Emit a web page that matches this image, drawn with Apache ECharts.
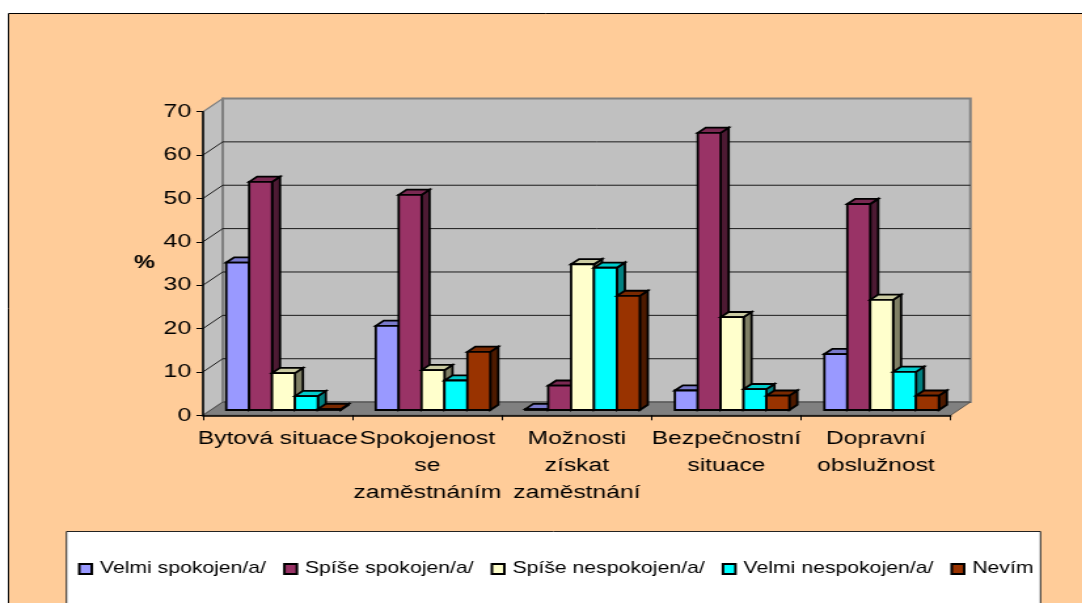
<!DOCTYPE html>
<html>
<head>
<meta charset="utf-8">
<style>
html,body{margin:0;padding:0;background:#fff;overflow:hidden;width:1082px;height:603px}
#c{width:826px;height:603px;transform:scaleX(1.31);transform-origin:0 0}
</style>
<script src="https://cdn.jsdelivr.net/npm/echarts@6/dist/echarts.min.js"></script>
</head>
<body>
<div id="c"></div>
<script>
const categories = ["Bytová situace", "Spokojenost\nse\nzaměstnáním", "Možnosti\nzískat\nzaměstnání", "Bezpečnostní\nsituace", "Dopravní\nobslužnost"];
const velmiSpokojen = [34.0, 19.4, 0.2, 4.5, 12.9];
const spiseSpokojen = [52.6, 49.6, 5.6, 63.9, 47.5];
const spiseNespokojen = [8.5, 9.2, 33.6, 21.4, 25.4];
const velmiNespokojen = [3.2, 6.8, 32.8, 4.8, 8.8];
const nevim = [0.2, 13.4, 26.3, 3.3, 3.3];
const yTicks = [10, 20, 30, 40, 50, 60];
const seriesNames = ["Velmi spokojen/a/", "Spíše spokojen/a/", "Spíše nespokojen/a/", "Velmi nespokojen/a/", "Nevím"];
const seriesValues = [velmiSpokojen, spiseSpokojen, spiseNespokojen, velmiNespokojen, nevim];
const seriesColors = ["#9999FF", "#993366", "#FFFFCC", "#00FFFF", "#993300"];

const S = 1.31;               // horizontal stretch of the whole picture
const px = v => v / S;
const wallDx = px(19.7), wallDy = 13.2;
const barDx = px(8), barDy = 5.2;
const barW = px(22.9), barShift = px(5.7), baseLift = 5.3;

function shade(hex, f) {
  const n = parseInt(hex.slice(1), 16);
  const c = s => Math.round(((n >> s) & 255) * f);
  return `rgb(${c(16)},${c(8)},${c(0)})`;
}
const poly = (points, fill, stroke, lw) => ({
  type: 'polygon', shape: { points },
  style: { fill, stroke: stroke || 'none', lineWidth: lw || 0 }
});

function renderWalls(params, api) {
  const g = params.coordSys;
  const x0 = g.x, x1 = g.x + g.width, yT = g.y, yB = g.y + g.height;
  return { type: 'group', children: [
    poly([[x0, yT], [x0 + wallDx, yT - wallDy], [x0 + wallDx, yB - wallDy], [x0, yB]], '#C0C0C0', '#808080', 1.2),
    poly([[x0 + wallDx, yT - wallDy], [x1 + wallDx, yT - wallDy], [x1 + wallDx, yB - wallDy], [x0 + wallDx, yB - wallDy]], '#C0C0C0', '#808080', 2),
    poly([[x0, yB], [x0 + wallDx, yB - wallDy], [x1 + wallDx, yB - wallDy], [x1, yB]], '#808080', '#404040', 0.8)
  ] };
}
function renderGrid(params, api) {
  const g = params.coordSys;
  const y = api.coord([0, api.value(1)])[1];
  const x0 = g.x, x1 = g.x + g.width;
  return { type: 'polyline',
    shape: { points: [[x0, y], [x0 + wallDx, y - wallDy], [x1 + wallDx, y - wallDy]] },
    style: { fill: 'none', stroke: '#1a1a1a', lineWidth: 1 } };
}
function makeBarRenderer(i) {
  return function (params, api) {
    const base = api.coord([api.value(0), 0]);
    const top = api.coord([api.value(0), api.value(1)]);
    const left = base[0] + barShift + (i - 2.5) * barW;
    const right = left + barW;
    const yB = base[1] - baseLift, yT = top[1] - baseLift;
    const col = seriesColors[i], k = '#000', lw = 1.8;
    return { type: 'group', children: [
      poly([[right, yT], [right + barDx, yT - barDy], [right + barDx, yB - barDy], [right, yB]], shade(col, 0.5), k, lw),
      poly([[left, yT], [left + barDx, yT - barDy], [right + barDx, yT - barDy], [right, yT]], shade(col, 0.8), k, lw),
      poly([[left, yT], [right, yT], [right, yB], [left, yB]], col, k, lw)
    ] };
  };
}

const barSeries = seriesNames.map((name, i) => ({
  name, type: 'custom', z: 2, clip: false,
  coordinateSystem: 'cartesian2d',
  encode: { x: 0, y: 1 },
  itemStyle: { color: seriesColors[i], borderColor: '#000', borderWidth: 1.5 },
  renderItem: makeBarRenderer(i),
  data: seriesValues[i].map((v, c) => [c, v])
}));

const font = 'Liberation Sans';
const chart = echarts.init(document.getElementById('c'), null, { renderer: 'canvas' });
chart.setOption({
  animation: false,
  textStyle: { fontFamily: font, color: '#000' },
  graphic: { elements: [
    { type: 'rect', z: -10, shape: { x: px(8.5), y: 13.5, width: 900, height: 700 },
      style: { fill: '#FFCC99', stroke: '#000', lineWidth: 1 } },
    { type: 'rect', z: -9, shape: { x: px(66.5), y: 531.5, width: px(974), height: 200 },
      style: { fill: '#fff', stroke: '#222', lineWidth: 1 } }
  ] },
  grid: { left: px(203), width: px(747.7), top: 111.7, height: 303.6, containLabel: false },
  xAxis: {
    type: 'category', data: categories, z: 3,
    axisLine: { lineStyle: { color: '#000', width: 1.5 } },
    axisTick: { show: true, alignWithLabel: false, length: 5, lineStyle: { color: '#000', width: 1 } },
    axisLabel: { interval: 0, fontSize: 18.8, lineHeight: 27, margin: 10, color: '#000', fontFamily: font },
    splitLine: { show: false }
  },
  yAxis: {
    type: 'value', min: 0, max: 70, interval: 10, z: 3,
    name: '%', nameLocation: 'middle', nameRotate: 0, nameGap: 36.6, nameMoveOverlap: false,
    nameTextStyle: { fontSize: 18, fontWeight: 'bold', color: '#000', fontFamily: font },
    axisLine: { show: true, lineStyle: { color: '#000', width: 1.5 } },
    axisTick: { show: true, length: 5, lineStyle: { color: '#000', width: 1 } },
    axisLabel: { fontSize: 19, margin: 9, padding: [3, 0, 0, 0], color: '#000', fontFamily: font },
    splitLine: { show: false }
  },
  legend: {
    data: seriesNames, left: px(78), top: 561, orient: 'horizontal',
    itemWidth: 9.5, itemHeight: 10, itemGap: 13, padding: 0,
    icon: 'rect',
    textStyle: { fontSize: 16.2, color: '#000', fontFamily: font, padding: [0, 0, 0, 1.2] }
  },
  series: [
    { name: 'walls', type: 'custom', z: 1, clip: false, coordinateSystem: 'cartesian2d',
      encode: { x: 0, y: 1 }, silent: true, renderItem: renderWalls, data: [[0, 0]] },
    { name: 'grid', type: 'custom', z: 1, clip: false, coordinateSystem: 'cartesian2d',
      encode: { x: 0, y: 1 }, silent: true, renderItem: renderGrid, data: yTicks.map(t => [0, t]) },
    ...barSeries
  ]
});
</script>
</body>
</html>
